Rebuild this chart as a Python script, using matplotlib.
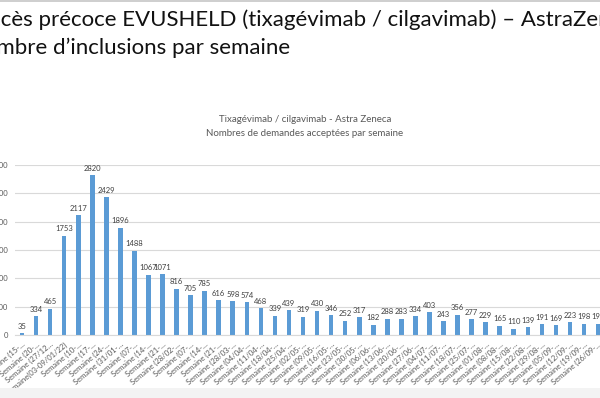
import matplotlib
matplotlib.use("Agg")
import matplotlib.pyplot as plt
from matplotlib.patches import Rectangle

semaines = [
    "Semaine (15-…", "Semaine (20-…", "Semaine (27/12…", "Semaine(03-09/01/22)",
    "Semaine (10-…", "Semaine (17-…", "Semaine (24-…", "Semaine (31/01-…",
    "Semaine (07-…", "Semaine (14-…", "Semaine (21-…", "Semaine (28/02-…",
    "Semaine (07-…", "Semaine (14-…", "Semaine (21-…", "Semaine (28/03-…",
    "Semaine (04/04-…", "Semaine (11/04-…", "Semaine (18/04-…", "Semaine (25/04-…",
    "Semaine (02/05-…", "Semaine (09/05-…", "Semaine (16/05-…", "Semaine (23/05-…",
    "Semaine (30/05-…", "Semaine (06/06-…", "Semaine (13/06-…", "Semaine (20/06-…",
    "Semaine (27/06-…", "Semaine (04/07-…", "Semaine (11/07-…", "Semaine (18/07-…",
    "Semaine (25/07-…", "Semaine (01/08-…", "Semaine (08/08-…", "Semaine (15/08-…",
    "Semaine (22/08-…", "Semaine (29/08-…", "Semaine (05/09-…", "Semaine (12/09-…",
    "Semaine (19/09-…", "Semaine (26/09-…",
]
demandes = [
    35, 334, 465, 1753, 2117, 2820, 2429, 1896, 1488, 1067, 1071, 816,
    705, 785, 616, 598, 574, 468, 339, 439, 319, 430, 346, 252,
    317, 182, 288, 283, 334, 403, 243, 356, 277, 229, 165, 110,
    139, 191, 169, 223, 198, 195,
]
y_ticks = [0, 500, 1000, 1500, 2000, 2500, 3000]

titre_slide_1 = "Accès précoce EVUSHELD (tixagévimab / cilgavimab) – AstraZeneca"
titre_slide_2 = "Nombre d’inclusions par semaine"
titre_graph_1 = "Tixagévimab / cilgavimab - Astra Zeneca"
titre_graph_2 = "Nombres de demandes acceptées par semaine"

W, H = 600, 398
plt.rcParams['font.family'] = ['Lato', 'DejaVu Sans']

fig = plt.figure(figsize=(W / 100, H / 100), dpi=100)
fig.patch.set_facecolor('white')

# slide decorations (top border, bottom shadow)
fig.add_artist(Rectangle((0, 1 - 2 / H), 1, 2 / H, transform=fig.transFigure,
                         color='#cfcfcf', lw=0))
fig.add_artist(Rectangle((0, 0), 1, 10 / H, transform=fig.transFigure,
                         color='#f3f3f3', lw=0))

# slide title, cut on the left like the screenshot
fig.text(-25 / W, 1 - 20 / H, titre_slide_1, fontsize=16, va='center', ha='left', color='#111111')
fig.text(-33 / W, 1 - 48 / H, titre_slide_2, fontsize=16, va='center', ha='left', color='#111111')

# chart titles
fig.text(305 / W, 1 - 119 / H, titre_graph_1, fontsize=7, ha='center', va='center', color='#595959')
fig.text(305 / W, 1 - 133 / H, titre_graph_2, fontsize=7, ha='center', va='center', color='#595959')

n = len(demandes)
step = 14.05
ax = fig.add_axes([15 / W, (H - 335) / H, n * step / W, 170 / H])
x = list(range(n))
ax.bar(x, demandes, width=0.33, color='#5B9BD5', zorder=2)
for i, v in zip(x, demandes):
    ax.annotate(str(v), (i, v), xytext=(0, 2.5), textcoords='offset points',
                ha='center', va='bottom', fontsize=5.5, color='#404040', zorder=4)

ax.set_xlim(-0.5, n - 0.5)
ax.set_ylim(0, 3000)
ax.set_yticks(y_ticks)
ax.yaxis.grid(True, color='#d9d9d9', lw=0.8, zorder=0)
ax.set_axisbelow(True)
for s in ['top', 'right', 'left']:
    ax.spines[s].set_visible(False)
ax.spines['bottom'].set_color('#d9d9d9')
ax.spines['bottom'].set_linewidth(0.8)
ax.tick_params(axis='both', length=0, labelsize=5.5, colors='#595959')
ax.tick_params(axis='y', pad=5)
ax.set_xticks(x)
ax.set_xticklabels(semaines, rotation=40, ha='right', va='top', rotation_mode='anchor')
ax.tick_params(axis='x', pad=4)

fig.savefig("out.png", dpi=100)
